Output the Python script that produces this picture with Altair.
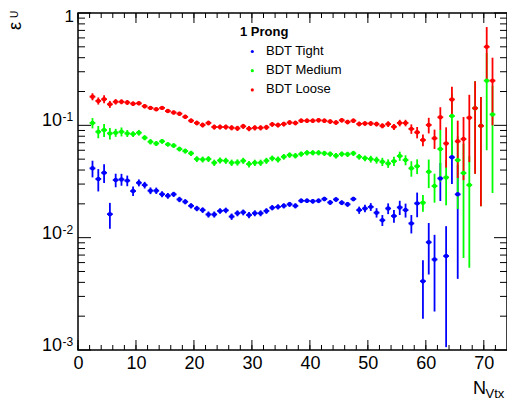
import altair as alt
import pandas as pd

# ---------------- data ----------------
nvtx = [2.5, 3.5, 4.5, 5.5, 6.5, 7.5, 8.5, 9.5, 10.5, 11.5,
        12.5, 13.5, 14.5, 15.5, 16.5, 17.5, 18.5, 19.5, 20.5, 21.5,
        22.5, 23.5, 24.5, 25.5, 26.5, 27.5, 28.5, 29.5, 30.5, 31.5,
        32.5, 33.5, 34.5, 35.5, 36.5, 37.5, 38.5, 39.5, 40.5, 41.5,
        42.5, 43.5, 44.5, 45.5, 46.5, 47.5, 48.5, 49.5, 50.5, 51.5,
        52.5, 53.5, 54.5, 55.5, 56.5, 57.5, 58.5, 59.5, 60.5, 61.5,
        62.5, 63.5, 64.5, 65.5, 66.5, 67.5, 68.5, 69.5, 70.5, 71.5]

tight = [0.0414, 0.0333, 0.0378, 0.0162, 0.0326, 0.033, 0.0322, 0.026, 0.0308, 0.0294,
         0.0262, 0.0262, 0.0244, 0.0236, 0.0243, 0.0219, 0.0209, 0.0192, 0.0182, 0.0176,
         0.0161, 0.0161, 0.0173, 0.0175, 0.0154, 0.0165, 0.0168, 0.0159, 0.0165, 0.0165,
         0.0173, 0.0185, 0.0188, 0.0192, 0.0198, 0.0192, 0.0213, 0.0213, 0.0211, 0.0213,
         0.0221, 0.0206, 0.0219, 0.0205, 0.0198, 0.0221, 0.0176, 0.0182, 0.0188, 0.0167,
         0.0143, 0.0182, 0.0156, 0.0186, 0.0176, 0.0134, 0.0202, 0.0041, 0.0091, 0.0064,
         0.0337, 0.00686, 0.052, 0.0243]
tight_err = [0.007, 0.0075, 0.0072, 0.0042, 0.0045, 0.004, 0.0035, 0.0025, 0.0022, 0.002,
             0.0018, 0.0017, 0.0015, 0.0014, 0.0013, 0.0012, 0.0011, 0.001, 0.001, 0.001,
             0.001, 0.001, 0.001, 0.001, 0.001, 0.001, 0.001, 0.001, 0.001, 0.001,
             0.001, 0.001, 0.001, 0.001, 0.001, 0.001, 0.001, 0.001, 0.001, 0.001,
             0.001, 0.001, 0.001, 0.001, 0.001, 0.001, 0.0013, 0.0014, 0.0015, 0.0016,
             0.0016, 0.002, 0.002, 0.0027, 0.0025, 0.0025, 0.005, 0.0022, 0.0044, 0.0042,
             0.0125, 0.0058, 0.022, 0.020]

medium = [0.105, 0.0877, 0.0908, 0.0848, 0.086, 0.0877, 0.0848, 0.0837, 0.086, 0.0776,
          0.0715, 0.069, 0.072, 0.0677, 0.066, 0.0615, 0.059, 0.0563, 0.0501, 0.0497,
          0.0501, 0.0465, 0.0487, 0.0484, 0.0465, 0.0468, 0.0484, 0.0452, 0.0465, 0.0465,
          0.0484, 0.0508, 0.0497, 0.0525, 0.0544, 0.0537, 0.0555, 0.057, 0.057, 0.057,
          0.0563, 0.0555, 0.0537, 0.0555, 0.0552, 0.0563, 0.0525, 0.051, 0.0501, 0.0491,
          0.0474, 0.0458, 0.048, 0.0533, 0.0491, 0.0414, 0.0433, 0.0205, 0.0386, 0.0288,
          0.0615, 0.0344, 0.121, 0.049, 0.0376, 0.0294, 0.142, 0.099, 0.25, 0.125]
medium_err = [0.011, 0.011, 0.012, 0.010, 0.007, 0.008, 0.006, 0.005, 0.005, 0.004,
              0.004, 0.0035, 0.0035, 0.003, 0.003, 0.003, 0.003, 0.003, 0.003, 0.003,
              0.003, 0.003, 0.003, 0.003, 0.003, 0.003, 0.003, 0.003, 0.003, 0.003,
              0.003, 0.003, 0.003, 0.003, 0.003, 0.003, 0.003, 0.003, 0.003, 0.003,
              0.003, 0.003, 0.003, 0.003, 0.003, 0.003, 0.003, 0.003, 0.0035, 0.0035,
              0.004, 0.004, 0.0045, 0.005, 0.005, 0.0065, 0.0065, 0.0035, 0.011, 0.0083,
              0.030, 0.015, 0.070, 0.031, 0.031, 0.024, 0.105, 0.080, 0.190, 0.100]

loose = [0.180, 0.165, 0.171, 0.154, 0.162, 0.162, 0.160, 0.156, 0.157, 0.148,
         0.143, 0.139, 0.143, 0.134, 0.130, 0.127, 0.119, 0.110, 0.105, 0.1007,
         0.105, 0.0966, 0.0966, 0.0966, 0.0952, 0.094, 0.098, 0.0935, 0.095, 0.095,
         0.096, 0.102, 0.1007, 0.1026, 0.106, 0.105, 0.110, 0.110, 0.110, 0.111,
         0.110, 0.108, 0.106, 0.111, 0.107, 0.110, 0.103, 0.104, 0.104, 0.1026,
         0.099, 0.1026, 0.097, 0.105, 0.105, 0.093, 0.0866, 0.074, 0.1007, 0.0766,
         0.118, 0.069, 0.170, 0.072, 0.0755, 0.117, 0.142, 0.099, 0.50, 0.25]
loose_err = [0.013, 0.012, 0.014, 0.011, 0.009, 0.008, 0.008, 0.007, 0.006, 0.006,
             0.005, 0.005, 0.005, 0.005, 0.005, 0.005, 0.005, 0.005, 0.005, 0.005,
             0.005, 0.005, 0.005, 0.005, 0.005, 0.005, 0.005, 0.005, 0.005, 0.005,
             0.005, 0.005, 0.005, 0.005, 0.005, 0.005, 0.005, 0.005, 0.005, 0.005,
             0.005, 0.005, 0.005, 0.005, 0.005, 0.005, 0.005, 0.005, 0.005, 0.005,
             0.005, 0.006, 0.006, 0.007, 0.007, 0.009, 0.010, 0.009, 0.016, 0.015,
             0.027, 0.027, 0.050, 0.038, 0.043, 0.070, 0.105, 0.080, 0.250, 0.150]

series_names = ["BDT Tight", "BDT Medium", "BDT Loose"]
series_colors = ["#0000ff", "#00ff00", "#ff0000"]
legend_title = "1 Prong"

x_major = [0, 10, 20, 30, 40, 50, 60, 70]
x_minor = [0, 2, 4, 6, 8, 10, 12, 14, 16, 18, 20, 22, 24, 26, 28, 30, 32, 34, 36,
           38, 40, 42, 44, 46, 48, 50, 52, 54, 56, 58, 60, 62, 64, 66, 68, 70, 72]
y_major = [0.001, 0.01, 0.1, 1.0]
y_minor = [0.002, 0.003, 0.004, 0.005, 0.006, 0.007, 0.008, 0.009,
           0.02, 0.03, 0.04, 0.05, 0.06, 0.07, 0.08, 0.09,
           0.2, 0.3, 0.4, 0.5, 0.6, 0.7, 0.8, 0.9]
y_label_pos = [0.001, 0.01, 0.1]
y_label_exp = ["-3", "-2", "-1"]

# ---------------- tables ----------------
rows = []
for name, vals, errs in zip(series_names, [tight, medium, loose],
                            [tight_err, medium_err, loose_err]):
    for x, v, e in zip(nvtx, vals, errs):
        rows.append(dict(series=name, x=x, v=v, lo=max(v - e, 1e-5), hi=v + e,
                         xlo=x - 0.5, xhi=x + 0.5))
df = pd.DataFrame(rows)

W, H = 429, 337
FONT = "Liberation Sans"

xs = alt.Scale(domain=[0, 74], nice=False, zero=False)
ys = alt.Scale(type="log", domain=[0.001, 1], nice=False)
xaxis = alt.Axis(values=x_major, ticks=False, domain=False, grid=False, title=None,
                 labelFontSize=18, labelFont=FONT, labelColor="black", labelPadding=4,
                 labelFlush=False)
color = alt.Color("series:N", scale=alt.Scale(domain=series_names, range=series_colors),
                  legend=None)
bar_op = alt.Opacity("series:N", scale=alt.Scale(domain=series_names, range=[1, 1, 0.82]),
                     legend=None)

base = alt.Chart(df)
verr = base.mark_rule(clip=True, strokeWidth=1.8).encode(
    x=alt.X("x:Q", scale=xs, axis=xaxis),
    y=alt.Y("lo:Q", scale=ys, axis=None),
    y2="hi:Q", color=color, opacity=bar_op)
herr = base.mark_rule(clip=True, strokeWidth=1.8).encode(
    x=alt.X("xlo:Q", scale=xs, axis=xaxis), x2="xhi:Q",
    y=alt.Y("v:Q", scale=ys, axis=None), color=color)
pts = base.mark_circle(clip=True, size=20, opacity=1).encode(
    x=alt.X("x:Q", scale=xs, axis=xaxis),
    y=alt.Y("v:Q", scale=ys, axis=None), color=color)

# ---------------- inward ticks ----------------
dxmaj = pd.DataFrame({"t": x_major})
dxmin = pd.DataFrame({"t": x_minor})
dymaj = pd.DataFrame({"t": y_major})
dymin = pd.DataFrame({"t": y_minor})

def xticks(d, length):
    b = alt.Chart(d).mark_rule(color="black", strokeWidth=1)
    xe = alt.X("t:Q", scale=xs, axis=xaxis)
    return [b.encode(x=xe, y=alt.value(H), y2=alt.value(H - length)),
            b.encode(x=xe, y=alt.value(0), y2=alt.value(length))]

def yticks(d, length):
    b = alt.Chart(d).mark_rule(color="black", strokeWidth=1)
    ye = alt.Y("t:Q", scale=ys, axis=None)
    return [b.encode(y=ye, x=alt.value(0), x2=alt.value(length)),
            b.encode(y=ye, x=alt.value(W), x2=alt.value(W - length))]

ticks = xticks(dxmin, 5) + xticks(dxmaj, 10) + yticks(dymin, 7) + yticks(dymaj, 13)

# ---------------- y labels (10 with superscript) ----------------
dlab = pd.DataFrame({"t": y_label_pos, "e": y_label_exp})
ylab_base = alt.Chart(dlab).mark_text(font=FONT, fontSize=18, align="right",
                                      baseline="alphabetic", dy=1, color="black").encode(
    y=alt.Y("t:Q", scale=ys, axis=None), x=alt.value(-16), text=alt.value("10"))
ylab_exp = alt.Chart(dlab).mark_text(font=FONT, fontSize=12, align="left",
                                     baseline="alphabetic", dy=-4, color="black").encode(
    y=alt.Y("t:Q", scale=ys, axis=None), x=alt.value(-15.5), text="e:N")
ylab_one = alt.Chart(pd.DataFrame({"t": [1.0]})).mark_text(
    font=FONT, fontSize=17, align="right", baseline="alphabetic", dy=9,
    color="black").encode(
    y=alt.Y("t:Q", scale=ys, axis=None), x=alt.value(-4), text=alt.value("1"))

# ---------------- axis titles ----------------
def label(txt, x, y, size, weight="normal", angle=0):
    kw = dict(font=FONT, fontSize=size, fontWeight=weight, align="left",
              baseline="alphabetic", color="black", text=txt)
    if angle:
        kw["angle"] = angle
    return alt.Chart(pd.DataFrame({"a": [0]})).mark_text(**kw).encode(
        x=alt.value(x), y=alt.value(y))

titles = [
    label("N", 395, 381, 18),
    label("Vtx", 407.5, 385, 13),
    label("ε", -57, 17, 18, angle=270),
    label("U", -60.5, 5, 10, angle=270),
]

# ---------------- legend ----------------
leg = [label(legend_title, 162, 23, 13, weight="bold")]
for i, (name, col) in enumerate(zip(series_names, series_colors)):
    yb = 42 + i * 19.2
    leg.append(label(name, 188, yb, 13))
    leg.append(alt.Chart(pd.DataFrame({"a": [0]})).mark_circle(size=10, color=col, opacity=1)
               .encode(x=alt.value(174.3), y=alt.value(yb - 3.5)))

chart = alt.layer(verr, herr, pts, *ticks, ylab_base, ylab_exp, ylab_one, *titles, *leg).properties(
    width=W, height=H,
    autosize=alt.AutoSizeParams(type="none"),
    padding={"left": 70, "top": 5, "right": 0, "bottom": 51},
    background="white",
).configure_view(stroke="black", strokeWidth=1.5)

chart.save("out.html", embed_options={"renderer": "svg", "actions": False})
